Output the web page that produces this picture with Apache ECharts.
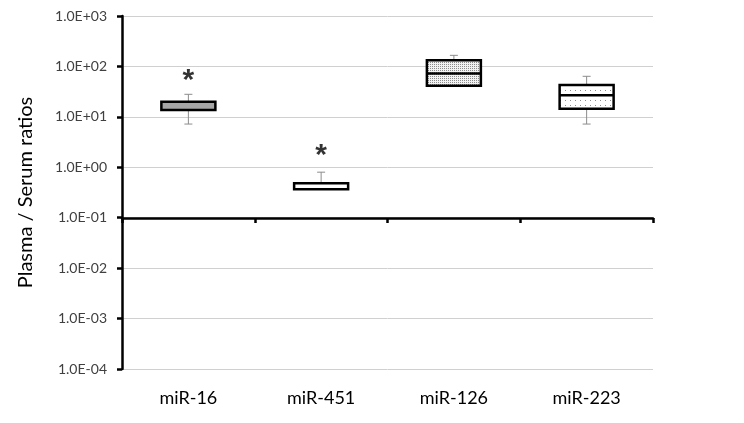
<!DOCTYPE html>
<html>
<head>
<meta charset="utf-8">
<script src="https://cdn.jsdelivr.net/npm/echarts@6/dist/echarts.min.js"></script>
<style>
    html, body { margin: 0; padding: 0; background: #fff; }
    #chart { width: 744px; height: 423px; }
</style>
</head>
<body>
<div id="chart"></div>
<script>
// 数据
var categories = ['miR-16', 'miR-451', 'miR-126', 'miR-223'];
// [min, Q1, median, Q3, max]
var boxValues = [
    [7.2, 13.7, 20, 20, 28],
    [0.366, 0.366, 0.366, 0.48, 0.8],
    [41.5, 41.5, 72, 132, 166],
    [7.2, 14.5, 26.8, 42.8, 63.7]
];
var starValues = ['51', '1.68', '-', '-'];
var yTicks = [1e-4, 1e-3, 1e-2, 1e-1, 1e0, 1e1, 1e2, 1e3];

// 点状填充
function dotPattern(size, bg, dot) {
    var c = document.createElement('canvas');
    c.width = size;
    c.height = size;
    var ctx = c.getContext('2d');
    ctx.fillStyle = bg;
    ctx.fillRect(0, 0, size, size);
    ctx.fillStyle = dot;
    ctx.fillRect(0, 0, 1, 1);
    return { image: c, repeat: 'repeat' };
}
var fills = [
    '#a6a6a6',
    '#ffffff',
    dotPattern(2, '#f2f2f2', '#8c8c8c'),
    dotPattern(5, '#ffffff', '#8c8c8c')
];

function sciLabel(v) {
    var e = Math.round(Math.log10(v));
    var s = e < 0 ? '-' : '+';
    var a = Math.abs(e);
    return '1.0E' + s + (a < 10 ? '0' + a : a);
}

var myChart = echarts.init(document.getElementById('chart'));
var option = {
    animation: false,
    grid: {
        left: 122,
        right: 91,
        top: 16,
        bottom: 54
    },
    xAxis: [{
        type: 'category',
        data: categories,
        axisLine: { show: false },
        axisTick: { show: false },
        axisLabel: {
            margin: 20,
            fontSize: 18,
            color: '#000',
            fontFamily: 'Lato'
        }
    }, {
        // 0.1 处的横轴线
        type: 'category',
        data: categories,
        position: 'bottom',
        offset: -151,
        axisLine: { show: true, lineStyle: { color: '#000', width: 2.5 } },
        axisTick: { show: true, length: 5, lineStyle: { color: '#000', width: 2.5 } },
        axisLabel: { show: false }
    }],
    yAxis: {
        type: 'log',
        logBase: 10,
        min: yTicks[0],
        max: yTicks[yTicks.length - 1],
        splitNumber: 7,
        name: 'Plasma / Serum ratios',
        nameLocation: 'middle',
        nameGap: 86,
        nameTextStyle: {
            fontSize: 20,
            color: '#000',
            fontFamily: 'Lato'
        },
        axisLine: { show: true, lineStyle: { color: '#000', width: 2.5 } },
        axisTick: { show: true, length: 5, lineStyle: { color: '#000', width: 2.5 } },
        axisLabel: {
            margin: 15,
            fontSize: 14,
            color: '#404040',
            fontFamily: 'Lato',
            formatter: sciLabel
        },
        splitLine: { lineStyle: { color: '#d0d0d0', width: 1 } }
    },
    series: [{
        // 须线
        type: 'boxplot',
        xAxisIndex: 1,
        boxWidth: [8, 8],
        itemStyle: { color: '#fff', borderColor: '#8c8c8c', borderWidth: 1 },
        data: boxValues
    }, {
        // 箱体
        type: 'boxplot',
        xAxisIndex: 0,
        boxWidth: [54, 54],
        itemStyle: { borderColor: '#000', borderWidth: 2.5 },
        data: boxValues.map(function (b, i) {
            return {
                value: [b[1], b[1], b[2], b[3], b[3]],
                itemStyle: { color: fills[i] }
            };
        })
    }, {
        // 显著性星号
        type: 'scatter',
        xAxisIndex: 0,
        symbolSize: 0,
        label: {
            show: true,
            position: 'inside',
            formatter: '*',
            fontSize: 30,
            fontWeight: 'bold',
            color: '#000',
            fontFamily: 'Liberation Sans'
        },
        data: starValues
    }]
};
myChart.setOption(option);
</script>
</body>
</html>
